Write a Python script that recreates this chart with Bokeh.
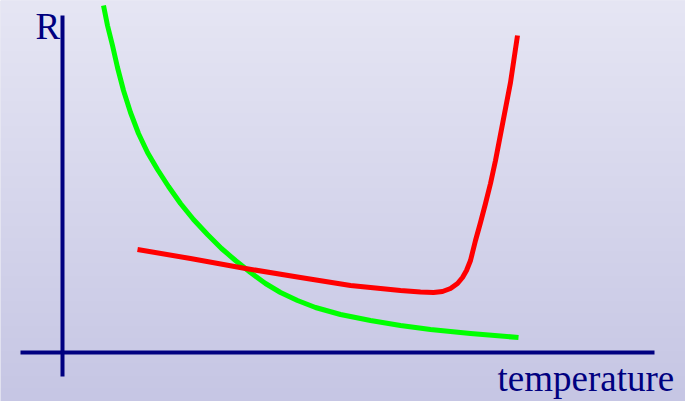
import numpy as np
from bokeh.plotting import figure
from bokeh.embed import file_html
from bokeh.resources import INLINE
from bokeh.core.properties import value

# Schematic units: temperature along x, resistance R along y (origin at axis crossing)
green_temp = [41, 45, 50, 55, 61, 68, 76, 85, 95, 106, 118, 131, 145, 159, 173,
              188, 203, 218, 235, 253, 278, 308, 338, 368, 408, 456]
green_R = [347, 327, 307, 285, 262, 240, 219, 200, 183, 166, 149, 133, 118, 104, 92,
           80, 69, 60, 52, 45, 38, 32, 27, 23, 19, 15]

red_temp = [75, 128, 183, 238, 288, 338, 358, 371, 380, 388, 395, 400, 404, 408,
            413, 418, 423, 428, 433, 438, 443, 448, 455]
red_R = [103, 94, 84, 75, 67, 62, 60.5, 60, 61, 64, 69, 75, 82, 92,
         112, 130, 149, 169, 192, 218, 244, 270, 317]

axis_x0 = [0, -42]
axis_y0 = [-24, 0]
axis_x1 = [0, 592]
axis_y1 = [337, 0]

x_label = "temperature"
y_label = "R"

X0, X1 = -62, 623
Y0, Y1 = -49, 352

p = figure(width=685, height=401, x_range=(X0, X1), y_range=(Y0, Y1),
           output_backend="svg", toolbar_location=None, min_border=0)
p.axis.visible = False
p.grid.visible = False
p.outline_line_color = None
p.background_fill_color = "#D6D6EA"
p.border_fill_color = "#D6D6EA"

# vertical gradient background
n = 401
top = np.array([230, 230, 244])
bot = np.array([198, 198, 228])
t = np.linspace(0, 1, n)[:, None]
cols = (bot * (1 - t) + top * t).astype(np.uint32)  # row 0 = bottom
img = np.empty((n, 1), dtype=np.uint32)
view = img.view(dtype=np.uint8).reshape((n, 1, 4))
view[:, 0, 0] = cols[:, 0]
view[:, 0, 1] = cols[:, 1]
view[:, 0, 2] = cols[:, 2]
view[:, 0, 3] = 255
p.image_rgba(image=[img], x=X0, y=Y0, dw=X1 - X0, dh=Y1 - Y0)

p.segment(x0=axis_x0, y0=axis_y0, x1=axis_x1, y1=axis_y1,
          line_color="#000080", line_width=4)

p.line(green_temp, green_R, line_color="#00FF00", line_width=5, line_join="round")
p.line(red_temp, red_R, line_color="#FF0000", line_width=5, line_join="round")

p.text(x=[-27], y=[326], text=[y_label], text_font=value("Liberation Serif"),
       text_font_size="37px", text_color="#000080", text_baseline="alphabetic")
p.text(x=[435], y=[-26], text=[x_label], text_font=value("Liberation Serif"),
       text_font_size="37px", text_color="#000080", text_baseline="alphabetic")

open("out.html", "w").write(file_html(p, INLINE))
